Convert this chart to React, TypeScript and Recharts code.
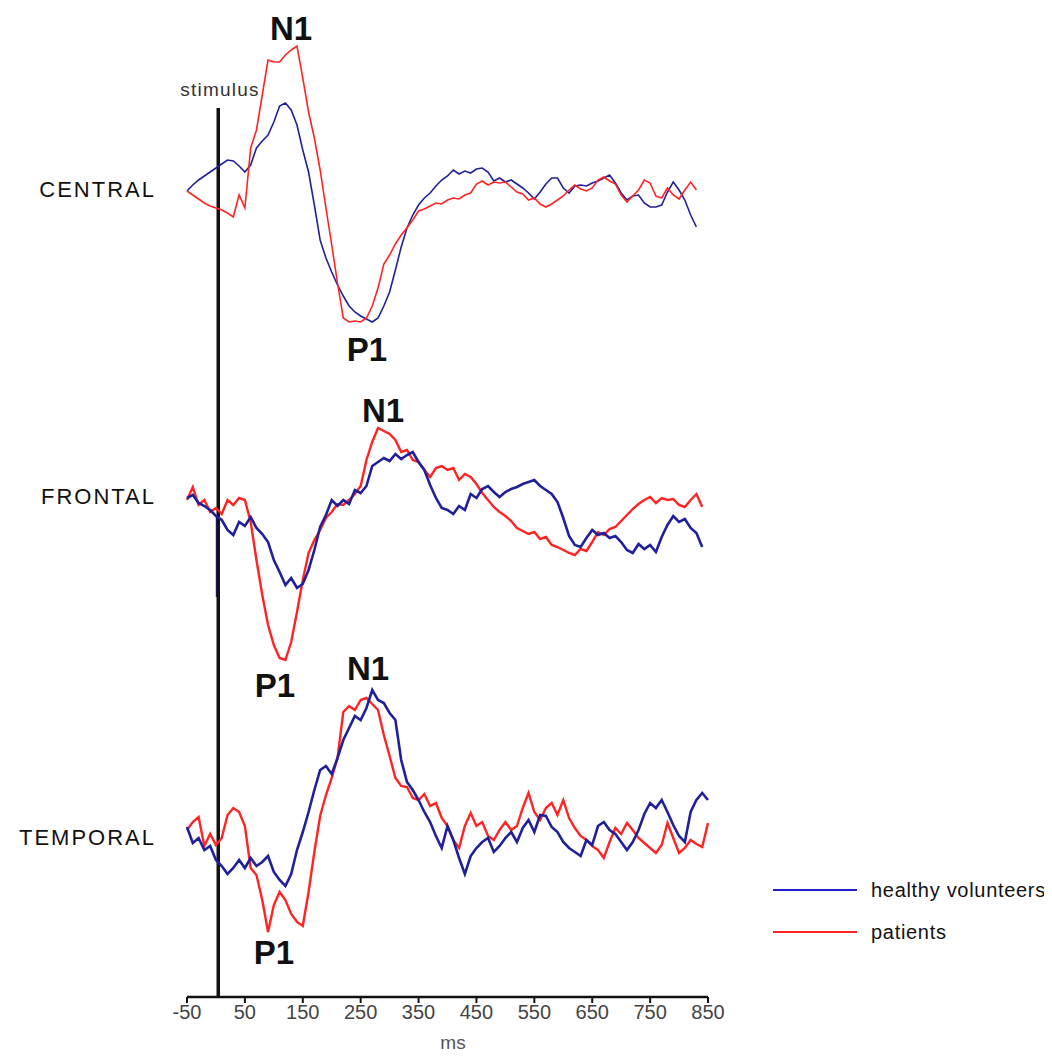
import React from "react";
import { LineChart, Line, XAxis, YAxis, ReferenceLine } from "recharts";

// time grid in ms
const TIMES = [
  -50, -40, -30, -20, -10, 0, 10, 20, 30, 40,
  50, 60, 70, 80, 90, 100, 110, 120, 130, 140,
  150, 160, 170, 180, 190, 200, 210, 220, 230, 240,
  250, 260, 270, 280, 290, 300, 310, 320, 330, 340,
  350, 360, 370, 380, 390, 400, 410, 420, 430, 440,
  450, 460, 470, 480, 490, 500, 510, 520, 530, 540,
  550, 560, 570, 580, 590, 600, 610, 620, 630, 640,
  650, 660, 670, 680, 690, 700, 710, 720, 730, 740,
  750, 760, 770, 780, 790, 800, 810, 820, 830, 840,
  850,
];

const X_TICKS = [-50, 50, 150, 250, 350, 450, 550, 650, 750, 850];

// amplitudes (arbitrary units, up = positive on screen)
const CENTRAL_HEALTHY = [
  -0.1, 0.5, 1.0, 1.4, 1.8, 2.2, 2.6, 3.0, 2.9, 2.4,
  1.8, 2.5, 4.2, 4.9, 5.5, 6.8, 8.4, 8.7, 8.0, 6.5,
  4.0, 1.8, -1.5, -5.0, -6.8, -8.2, -9.5, -10.6, -11.6, -12.2,
  -12.6, -12.9, -13.2, -12.8, -11.6, -10.2, -8.0, -5.7, -3.8, -2.5,
  -1.5, -0.8, -0.3, 0.4, 1.0, 1.4, 2.0, 1.6, 1.9, 1.7,
  2.1, 2.2, 1.8, 0.9, 1.2, 0.8, 1.0, 0.6, 0.2, -0.3,
  -0.9, -0.2, 0.6, 1.2, 1.2, 0.2, -0.3, 0.4, 0.5, 0.4,
  0.7, 0.9, 1.2, 1.5, 0.7, -0.3, -1.0, -0.6, -0.5, -1.3,
  -1.7, -1.7, -1.5, -0.2, 0.8, 0.0, -1.0, -2.5, -3.7, null,
  null,
];
const CENTRAL_PATIENTS = [
  -0.1, -0.5, -0.9, -1.3, -1.6, -1.8, -2.0, -2.3, -2.7, -0.5,
  -1.8, 4.2, 6.0, 9.5, 13.0, 12.8, 12.8, 13.5, 14.0, 14.4,
  11.2, 7.8, 5.2, 2.0, -1.8, -5.5, -9.3, -12.8, -13.2, -13.1,
  -13.2, -12.8, -11.6, -9.8, -7.4, -6.5, -5.4, -4.5, -3.8, -3.0,
  -2.1, -1.9, -1.6, -1.3, -1.4, -1.0, -0.8, -0.9, -0.5, -0.3,
  0.6, 0.9, 0.5, 0.8, 0.7, 0.8, 0.3, -0.2, -0.4, -1.0,
  -0.8, -1.4, -1.7, -1.4, -1.0, -0.6, 0.0, 0.5, 0.1, -0.1,
  0.2, 1.0, 1.3, 0.9, 0.6, -0.5, -1.2, -0.6, 0.0, 1.0,
  0.7, -0.6, -0.8, 0.2, -0.5, -0.9, 0.0, 0.8, 0.0, null,
  null,
];
const FRONTAL_HEALTHY = [
  0.2, 0.5, -0.3, -0.6, -1.0, -1.6, -2.0, -3.0, -3.5, -2.2,
  -2.6, -1.7, -2.8, -3.4, -4.2, -6.0, -7.2, -8.5, -7.8, -8.8,
  -8.4, -7.0, -5.0, -2.7, -1.5, 0.0, -0.6, 0.0, -0.4, 1.0,
  0.7, 1.4, 3.4, 3.8, 4.2, 3.9, 4.6, 4.1, 4.5, 4.8,
  3.8, 3.0, 1.5, 0.2, -0.8, -1.0, -1.4, -0.6, -1.0, 0.6,
  0.2, 1.1, 1.4, 0.8, 0.3, 0.8, 1.1, 1.3, 1.6, 1.8,
  2.0, 1.4, 1.0, 0.6, -0.2, -1.8, -3.6, -4.5, -4.7, -3.8,
  -3.0, -3.5, -3.3, -3.8, -3.6, -4.2, -5.0, -5.3, -4.4, -4.9,
  -4.5, -5.2, -3.7, -2.5, -1.6, -2.2, -1.9, -2.8, -3.3, -4.7,
  null,
];
const FRONTAL_PATIENTS = [
  0.0, 1.3, -0.5, 0.0, -1.2, -0.8, -1.4, 0.0, -0.5, 0.2,
  0.0, -2.2, -6.0, -9.5, -12.5, -14.5, -15.8, -16.0, -14.2, -11.2,
  -8.0, -5.3, -4.0, -3.0, -1.8, -1.2, -0.4, -0.5, 0.0, 0.6,
  1.4, 4.0, 5.8, 7.2, 6.9, 6.6, 6.0, 4.8, 5.0, 4.0,
  3.8, 3.0, 2.3, 3.2, 3.4, 3.0, 3.2, 2.0, 2.6, 2.3,
  1.6, 0.7, 0.0, -0.7, -1.2, -1.6, -2.1, -2.8, -3.1, -3.4,
  -3.2, -3.9, -3.7, -4.5, -4.7, -5.0, -5.3, -5.5, -4.9, -5.1,
  -4.2, -3.2, -3.5, -2.9, -2.7, -2.1, -1.5, -0.9, -0.4, 0.0,
  0.3, -0.3, 0.2, 0.0, 0.1, -0.5, -0.7, 0.0, 0.6, -0.7,
  null,
];
const TEMPORAL_HEALTHY = [
  0.8, -0.8, -0.3, -1.5, -1.1, -2.5, -3.1, -3.9, -3.3, -2.5,
  -3.3, -2.3, -3.1, -2.7, -2.1, -3.7, -4.5, -5.1, -3.9, -1.5,
  0.3, 2.3, 4.5, 6.5, 6.9, 6.1, 7.7, 9.5, 10.7, 11.9,
  11.5, 12.7, 14.5, 13.5, 13.2, 12.2, 11.5, 7.5, 5.3, 4.5,
  3.5, 2.3, 1.3, -0.1, -1.3, 0.9, -0.5, -2.3, -3.9, -2.1,
  -1.3, -0.7, -0.3, -1.7, -1.1, -0.3, 0.3, -0.7, 0.7, 1.5,
  0.3, 2.0, 1.9, 0.8, 0.3, -0.7, -1.3, -1.7, -2.1, -0.5,
  -1.0, 0.9, 1.3, 0.5, 0.1, -0.7, -1.5, -0.7, 0.5, 2.1,
  3.2, 2.7, 3.5, 2.3, 1.0, -0.1, -0.7, 2.3, 3.5, 4.2,
  3.5,
];
const TEMPORAL_PATIENTS = [
  0.5, 1.3, 1.8, -1.1, 0.1, -1.0, -0.3, 2.0, 2.7, 2.3,
  0.9, -3.3, -4.0, -6.5, -9.7, -7.0, -5.7, -6.5, -7.9, -8.7,
  -9.1, -5.7, -1.7, 1.9, 4.0, 5.7, 7.7, 12.3, 12.9, 12.5,
  13.5, 13.7, 13.1, 12.5, 10.0, 7.9, 5.7, 4.9, 4.8, 3.7,
  3.5, 4.1, 2.9, 3.2, 1.7, 0.9, -0.5, -1.3, 0.9, 2.2,
  0.9, 1.3, -0.1, -0.5, 0.5, 1.3, 0.5, 0.9, 2.7, 4.2,
  2.3, 1.5, 2.7, 3.2, 2.0, 3.5, 1.7, 0.7, -0.1, -0.5,
  -1.1, -1.5, -2.3, -0.7, 0.7, 0.1, 1.2, 0.5, -0.3, -0.8,
  -1.3, -1.8, -1.0, 1.2, -0.3, -1.8, -1.3, -0.5, -0.9, -1.2,
  1.2,
];

// vertical stacking of the three recording sites
const OFFSET_CENTRAL = 80.7;
const OFFSET_FRONTAL = 49.7;
const OFFSET_TEMPORAL = 16.2;

const BLUE = "#20209a";
const RED = "#ff2424";
const FONT = "'Liberation Sans', Arial, sans-serif";

const shift = (v: number | null, off: number) => (v == null ? null : v + off);

const data = TIMES.map((t, i) => ({
  t,
  cH: shift(CENTRAL_HEALTHY[i], OFFSET_CENTRAL),
  cP: shift(CENTRAL_PATIENTS[i], OFFSET_CENTRAL),
  fH: shift(FRONTAL_HEALTHY[i], OFFSET_FRONTAL),
  fP: shift(FRONTAL_PATIENTS[i], OFFSET_FRONTAL),
  tH: shift(TEMPORAL_HEALTHY[i], OFFSET_TEMPORAL),
  tP: shift(TEMPORAL_PATIENTS[i], OFFSET_TEMPORAL),
}));

const peak = (text: string, x: number, y: number) => (
  <div
    key={text + x + y}
    style={{
      position: "absolute",
      left: x,
      top: y,
      transform: "translate(-50%, -50%)",
      fontSize: 33,
      fontWeight: "bold",
      lineHeight: 1,
      color: "#111",
    }}
  >
    {text}
  </div>
);

const site = (text: string, y: number) => (
  <div
    key={text}
    style={{
      position: "absolute",
      right: 1052 - 156,
      top: y,
      transform: "translateY(-50%)",
      fontSize: 22,
      letterSpacing: 2,
      lineHeight: 1,
      color: "#111",
    }}
  >
    {text}
  </div>
);

export default function App() {
  return (
    <div
      style={{
        position: "relative",
        width: 1052,
        height: 1059,
        margin: -8,
        background: "#fff",
        fontFamily: FONT,
      }}
    >
      <LineChart
        width={1052}
        height={1059}
        data={data}
        margin={{ top: 0, right: 344, left: 187, bottom: 32 }}
      >
        <XAxis
          dataKey="t"
          type="number"
          domain={[-50, 850]}
          ticks={X_TICKS}
          height={30}
          axisLine={{ stroke: "#111", strokeWidth: 2.5 }}
          tickLine={{ stroke: "#111", strokeWidth: 2 }}
          tickSize={6}
          tick={{ fill: "#444", fontSize: 20, fontFamily: FONT }}
          interval={0}
        />
        <YAxis hide domain={[0, 99.7]} />
        {/* stray baseline blip of the frontal healthy trace at stimulus onset */}
        <ReferenceLine
          segment={[
            { x: 1, y: OFFSET_FRONTAL - 1.6 },
            { x: 1, y: OFFSET_FRONTAL - 9.7 },
          ]}
          stroke={BLUE}
          strokeWidth={1.5}
        />
        <ReferenceLine
          segment={[
            { x: 4, y: 0 },
            { x: 4, y: 88.9 },
          ]}
          stroke="#111"
          strokeWidth={3.5}
        />
        <Line dataKey="cH" stroke={BLUE} strokeWidth={1.6} dot={false} isAnimationActive={false} />
        <Line dataKey="cP" stroke={RED} strokeWidth={1.6} dot={false} isAnimationActive={false} />
        <Line dataKey="fP" stroke={RED} strokeWidth={2.4} dot={false} isAnimationActive={false} />
        <Line dataKey="fH" stroke={BLUE} strokeWidth={2.6} dot={false} isAnimationActive={false} />
        <Line dataKey="tP" stroke={RED} strokeWidth={2.4} dot={false} isAnimationActive={false} />
        <Line dataKey="tH" stroke={BLUE} strokeWidth={2.6} dot={false} isAnimationActive={false} />
      </LineChart>

      <div
        style={{
          position: "absolute",
          left: 220,
          top: 89,
          transform: "translate(-50%, -50%)",
          fontSize: 19,
          letterSpacing: 1.2,
          lineHeight: 1,
          color: "#333",
        }}
      >
        stimulus
      </div>

      {peak("N1", 291, 28)}
      {peak("P1", 367, 349)}
      {peak("N1", 383, 410)}
      {peak("P1", 275, 685)}
      {peak("N1", 368, 668)}
      {peak("P1", 274, 952)}

      {site("CENTRAL", 190)}
      {site("FRONTAL", 497)}
      {site("TEMPORAL", 838)}

      <div
        style={{
          position: "absolute",
          left: 453,
          top: 1042,
          transform: "translate(-50%, -50%)",
          fontSize: 19,
          lineHeight: 1,
          color: "#555",
        }}
      >
        ms
      </div>

      {[
        { label: "healthy volunteers", color: "#1f1fd0", y: 890 },
        { label: "patients", color: RED, y: 932 },
      ].map((item) => (
        <div key={item.label}>
          <div
            style={{
              position: "absolute",
              left: 773,
              top: item.y - 1,
              width: 84,
              height: 2,
              background: item.color,
            }}
          />
          <div
            style={{
              position: "absolute",
              left: 871,
              top: item.y,
              transform: "translateY(-50%)",
              fontSize: 20,
              letterSpacing: 0.7,
              lineHeight: 1,
              color: "#111",
            }}
          >
            {item.label}
          </div>
        </div>
      ))}
    </div>
  );
}
